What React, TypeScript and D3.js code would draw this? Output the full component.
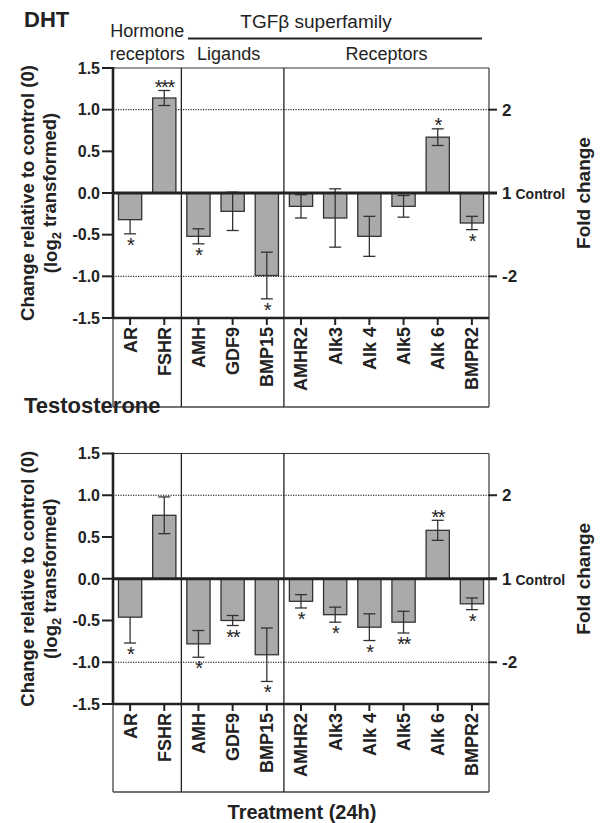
import React from "react";
import * as d3 from "d3";

const categories = ["AR", "FSHR", "AMH", "GDF9", "BMP15", "AMHR2", "Alk3", "Alk 4", "Alk5", "Alk 6", "BMPR2"];
const groupBreaks = [2, 5]; // divider after these many categories
const groupLabels = ["Hormone\nreceptors", "Ligands", "Receptors"];
const superLabel = "TGFβ superfamily";

const dhtMean = [-0.32, 1.14, -0.52, -0.22, -0.99, -0.16, -0.3, -0.52, -0.16, 0.67, -0.36];
const dhtErrLow = [0.17, 0.09, 0.09, 0.23, 0.28, 0.14, 0.35, 0.24, 0.13, 0.1, 0.08];
const dhtErrHigh = [0, 0.09, 0.09, 0.23, 0.28, 0.14, 0.35, 0.24, 0.13, 0.1, 0.08];
const dhtSig = ["*", "***", "*", "", "*", "", "", "", "", "*", "*"];

const testMean = [-0.46, 0.76, -0.78, -0.5, -0.91, -0.27, -0.43, -0.58, -0.52, 0.58, -0.3];
const testErrLow = [0.31, 0.22, 0.16, 0.06, 0.32, 0.08, 0.09, 0.16, 0.13, 0.12, 0.07];
const testErrHigh = [0, 0.22, 0.16, 0.06, 0.32, 0.08, 0.09, 0.16, 0.13, 0.12, 0.07];
const testSig = ["*", "", "*", "**", "*", "*", "*", "*", "**", "**", "*"];

const leftTicks = [1.5, 1.0, 0.5, 0.0, -0.5, -1.0, -1.5];
const rightTicks = [
  { v: 1, label: "2", extra: "" },
  { v: 0, label: "1", extra: "Control" },
  { v: -1, label: "-2", extra: "" },
];
const dottedLines = [1, -1];

const FONT = "'Liberation Sans', Arial, Helvetica, sans-serif";
const X0 = 113;
const X1 = 489;
const BAR_FILL = "#aaaaac";
const DARK = "#222";

type PanelProps = {
  title: string;
  top: number;
  bottom: number;
  boxBottom: number;
  mean: number[];
  errLow: number[];
  errHigh: number[];
  sig: string[];
  showHeader: boolean;
};

function Panel(p: PanelProps) {
  const x = d3.scaleBand<string>().domain(categories).range([X0, X1]).paddingInner(0.32).paddingOuter(0.16);
  const y = d3.scaleLinear().domain([-1.5, 1.5]).range([p.bottom, p.top]);
  const step = x.step();
  const bw = x.bandwidth();
  const cx = (c: string) => (x(c) as number) + bw / 2;
  const dividers = groupBreaks.map((b) => X0 + b * step);
  const bounds = [X0, ...dividers, X1];
  const midY = (p.top + p.bottom) / 2;
  const y0 = y(0);

  return (
    <g>
      <text x={24} y={p.top - 41} fontFamily={FONT} fontWeight="bold" fontSize={22} fill={DARK}>
        {p.title}
      </text>
      {p.showHeader && (
        <g fontFamily={FONT} fontSize={18} fill={DARK}>
          <text x={(bounds[0] + bounds[1]) / 2} y={37} textAnchor="middle">Hormone</text>
          <text x={(bounds[0] + bounds[1]) / 2} y={60} textAnchor="middle">receptors</text>
          <text x={(bounds[1] + bounds[2]) / 2 - 4} y={60} textAnchor="middle">{groupLabels[1]}</text>
          <text x={(bounds[2] + bounds[3]) / 2} y={60} textAnchor="middle">{groupLabels[2]}</text>
          <text x={316} y={28} textAnchor="middle" fontSize={19}>{superLabel}</text>
          <line x1={188} x2={482} y1={38.5} y2={38.5} stroke={DARK} strokeWidth={2.2} />
        </g>
      )}
      {/* box */}
      <line x1={X0} x2={X1} y1={p.top} y2={p.top} stroke="#333" strokeWidth={1.2} />
      <line x1={X1} x2={X1} y1={p.top} y2={p.boxBottom} stroke="#444" strokeWidth={1.3} />
      <line x1={X0} x2={X1} y1={p.boxBottom} y2={p.boxBottom} stroke="#444" strokeWidth={1.3} />
      <line x1={X0} x2={X0} y1={p.bottom} y2={p.boxBottom} stroke="#444" strokeWidth={1.3} />
      {dividers.map((d, i) => (
        <line key={i} x1={d} x2={d} y1={p.top} y2={p.boxBottom} stroke={DARK} strokeWidth={1.3} />
      ))}
      {/* dotted */}
      {dottedLines.map((v) => (
        <line key={v} x1={X0} x2={X1} y1={y(v)} y2={y(v)} stroke="#000" strokeWidth={1} strokeDasharray="1.2,1.3" />
      ))}
      {/* bars */}
      {categories.map((c, i) => {
        const m = p.mean[i];
        return (
          <rect
            key={c}
            x={x(c)}
            y={Math.min(y(m), y0)}
            width={bw}
            height={Math.abs(y(m) - y0)}
            fill={BAR_FILL}
            stroke="#333"
            strokeWidth={1.3}
          />
        );
      })}
      {/* error bars */}
      {categories.map((c, i) => {
        const m = p.mean[i];
        const lo = y(m - p.errLow[i]);
        const hi = y(m + p.errHigh[i]);
        const xc = cx(c);
        return (
          <g key={c} stroke="#333" strokeWidth={1.3}>
            <line x1={xc} x2={xc} y1={lo} y2={hi} />
            <line x1={xc - 6} x2={xc + 6} y1={lo} y2={lo} />
            {p.errHigh[i] > 0 && <line x1={xc - 6} x2={xc + 6} y1={hi} y2={hi} />}
          </g>
        );
      })}
      {/* significance */}
      {categories.map((c, i) => {
        const s = p.sig[i];
        if (!s) return null;
        const m = p.mean[i];
        const yy = m < 0 ? y(m - p.errLow[i]) + 18 : y(m + p.errHigh[i]) + 3.5;
        return (
          <text key={c} x={cx(c)} y={yy} textAnchor="middle" fontFamily={FONT} fontSize={20} fill={DARK} letterSpacing={-1.5}>
            {s}
          </text>
        );
      })}
      {/* left axis */}
      <line x1={X0} x2={X0} y1={p.top - 1} y2={p.bottom + 1} stroke={DARK} strokeWidth={2.6} />
      {leftTicks.map((t) => (
        <g key={t}>
          <line x1={X0 - 11} x2={X0} y1={y(t)} y2={y(t)} stroke={DARK} strokeWidth={2} />
          <text x={X0 - 13} y={y(t)} dy="0.36em" textAnchor="end" fontFamily={FONT} fontWeight="bold" fontSize={16} fill={DARK}>
            {d3.format(".1f")(t).replace("−", "-")}
          </text>
        </g>
      ))}
      {/* zero line */}
      <line x1={X0} x2={X1 + 8} y1={y0} y2={y0} stroke={DARK} strokeWidth={2.8} />
      {/* bottom axis */}
      <line x1={X0} x2={X1} y1={p.bottom} y2={p.bottom} stroke={DARK} strokeWidth={2.6} />
      {categories.map((c) => (
        <g key={c}>
          <line x1={cx(c)} x2={cx(c)} y1={p.bottom} y2={p.bottom + 7} stroke={DARK} strokeWidth={2} />
          <text
            transform={`translate(${cx(c)},${p.bottom + 9}) rotate(-90)`}
            dy="0.36em"
            textAnchor="end"
            fontFamily={FONT}
            fontWeight="bold"
            fontSize={18}
            fill={DARK}
          >
            {c}
          </text>
        </g>
      ))}
      {/* right ticks */}
      {rightTicks.map((t) => (
        <g key={t.v}>
          <line x1={X1} x2={X1 + 8} y1={y(t.v)} y2={y(t.v)} stroke={DARK} strokeWidth={2} />
          <text x={X1 + 13} y={y(t.v)} dy="0.36em" fontFamily={FONT} fontWeight="bold" fontSize={17} fill={DARK}>
            {t.label}
            {t.extra && (
              <tspan fontSize={14} dx={4}>
                {t.extra}
              </tspan>
            )}
          </text>
        </g>
      ))}
      {/* axis titles */}
      <text
        transform={`translate(27,${midY}) rotate(-90)`}
        dy="0.36em"
        textAnchor="middle"
        fontFamily={FONT}
        fontWeight="bold"
        fontSize={18.5}
        fill={DARK}
      >
        Change relative to control (0)
      </text>
      <text
        transform={`translate(50,${midY}) rotate(-90)`}
        dy="0.36em"
        textAnchor="middle"
        fontFamily={FONT}
        fontWeight="bold"
        fontSize={18.5}
        fill={DARK}
      >
        (log
        <tspan fontSize={13} dy="0.35em">2</tspan>
        <tspan dy="-0.27em"> transformed)</tspan>
      </text>
      <text
        transform={`translate(583,${midY}) rotate(-90)`}
        dy="0.36em"
        textAnchor="middle"
        fontFamily={FONT}
        fontWeight="bold"
        fontSize={19}
        fill={DARK}
      >
        Fold change
      </text>
    </g>
  );
}

export default function App() {
  return (
    <svg width={602} height={823} style={{ position: "absolute", left: 0, top: 0, background: "#fff" }}>
      <rect width={602} height={823} fill="#fff" />
      <Panel
        title="DHT"
        top={68}
        bottom={318}
        boxBottom={407}
        mean={dhtMean}
        errLow={dhtErrLow}
        errHigh={dhtErrHigh}
        sig={dhtSig}
        showHeader={true}
      />
      <Panel
        title="Testosterone"
        top={453.5}
        bottom={704}
        boxBottom={792}
        mean={testMean}
        errLow={testErrLow}
        errHigh={testErrHigh}
        sig={testSig}
        showHeader={false}
      />
      <text x={302} y={819} textAnchor="middle" fontFamily={FONT} fontWeight="bold" fontSize={20} fill={DARK}>
        Treatment (24h)
      </text>
    </svg>
  );
}
